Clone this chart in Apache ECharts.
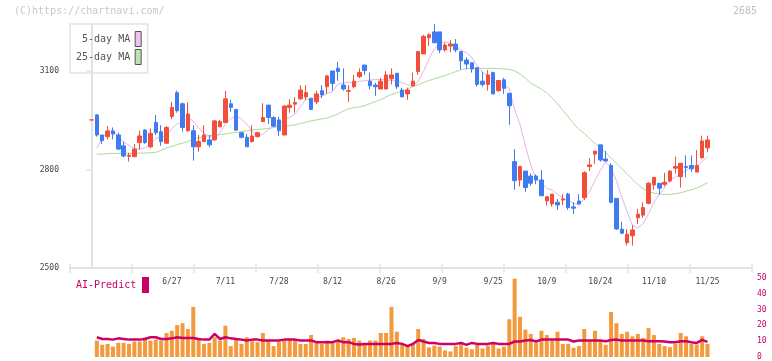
<!DOCTYPE html>
<html><head><meta charset="utf-8">
<script src="https://cdn.jsdelivr.net/npm/echarts@6/dist/echarts.min.js"></script>
<style>html,body{margin:0;padding:0;background:#fff}#c{width:772px;height:361px}</style>
</head><body><div id="c"></div>
<script>
// ---- data (index = trading day, 0 = 6/6 ... 115 = 11/25) ----
const opens = [2951,2966,2905,2900,2917,2905,2872,2840,2839,2882,2920,2869,2943,2915,2880,2961,3034,3000,2918,2918,
2869,2885,2890,2890,2930,2943,3000,2983,2912,2898,2885,2900,2946,2996,2958,2951,2905,2989,2999,3015,
3021,3017,3006,3040,3052,3100,3108,3057,3038,3052,3083,3118,3069,3057,3045,3045,3076,3093,3042,3030,
3055,3098,3152,3201,3219,3219,3164,3176,3182,3159,3133,3125,3110,3069,3059,3095,3040,3073,3032,2824,
2768,2795,2780,2780,2768,2704,2695,2700,2707,2725,2686,2704,2714,2809,2847,2875,2832,2812,2712,2618,
2577,2598,2653,2661,2697,2753,2758,2755,2765,2804,2778,2809,2812,2792,2836,2866];
const closes = [2951,2905,2888,2917,2908,2862,2841,2843,2862,2902,2882,2910,2912,2885,2928,2989,2979,2928,2969,2869,
2885,2905,2875,2948,2946,3015,2989,2920,2898,2869,2902,2912,2958,2958,2932,2918,2993,2996,3004,3042,
3034,2983,3030,3027,3085,3062,3098,3045,3040,3069,3095,3101,3055,3052,3069,3088,3088,3052,3021,3042,
3069,3159,3205,3210,3186,3164,3179,3182,3164,3131,3121,3106,3059,3059,3088,3030,3071,3047,2994,2766,
2809,2745,2758,2768,2720,2717,2725,2692,2710,2684,2682,2695,2790,2814,2856,2829,2826,2700,2619,2606,
2603,2616,2664,2684,2758,2776,2743,2761,2795,2809,2819,2806,2802,2812,2887,2890];
const lows = [2951,2900,2878,2892,2892,2859,2837,2824,2839,2861,2878,2865,2905,2872,2878,2953,2973,2915,2915,2827,
2854,2885,2868,2888,2930,2941,2976,2917,2895,2869,2882,2898,2946,2939,2929,2902,2905,2973,2973,3012,
3012,2981,2999,3017,3030,3040,3070,3040,3006,3047,3078,3088,3044,3024,3045,3045,3059,3045,3021,3012,
3052,3088,3152,3176,3186,3154,3159,3157,3157,3105,3105,3095,3052,3052,3040,3030,3037,3030,2936,2738,
2748,2732,2751,2755,2720,2690,2687,2677,2692,2677,2664,2695,2707,2795,2817,2824,2824,2697,2616,2603,
2568,2568,2634,2653,2694,2738,2724,2748,2761,2788,2745,2776,2792,2792,2833,2852];
const highs = [2951,2969,2905,2932,2928,2912,2885,2851,2878,2918,2923,2925,2966,2935,2932,3006,3040,3004,3004,2935,
2905,2935,2905,2951,2951,3039,3012,2983,2915,2908,2935,2915,3002,2996,2962,2961,2996,3014,3020,3057,
3057,3017,3040,3057,3088,3100,3128,3108,3057,3088,3108,3118,3095,3064,3079,3100,3108,3093,3049,3049,
3095,3159,3210,3215,3243,3219,3186,3194,3197,3159,3141,3125,3110,3098,3103,3098,3071,3079,3032,2862,
2811,2795,2788,2785,2798,2717,2725,2710,2725,2729,2700,2725,2795,2834,2856,2875,2856,2819,2712,2641,
2618,2631,2680,2700,2761,2776,2758,2790,2798,2839,2819,2843,2843,2859,2903,2903];
const ma5 = [null,2864,2895,2918,2920,2900,2883,2874,2863,2862,2866,2879,2894,2898,2903,2925,2939,2942,2959,2947,
2926,2911,2901,2896,2912,2938,2955,2964,2954,2938,2916,2900,2908,2920,2932,2936,2952,2959,2969,2991,
3014,3012,3019,3023,3032,3037,3060,3063,3066,3063,3069,3070,3072,3074,3074,3073,3070,3070,3064,3058,
3054,3069,3099,3137,3166,3185,3189,3184,3175,3164,3155,3141,3116,3095,3087,3068,3061,3059,3046,2982,
2937,2872,2814,2769,2760,2742,2738,2724,2713,2705,2698,2692,2712,2733,2767,2797,2823,2805,2766,2716,
2671,2629,2622,2635,2665,2700,2725,2744,2767,2777,2785,2798,2806,2810,2825,2839];
const ma25 = [null,2846,2847,2848,2849,2849,2849,2849,2849,2850,2850,2851,2852,2858,2866,2870,2876,2880,2885,2893,
2897,2900,2903,2905,2906,2908,2911,2913,2915,2918,2920,2922,2923,2925,2928,2930,2932,2934,2936,2940,
2944,2948,2951,2954,2957,2962,2969,2978,2985,2988,2991,2994,3001,3007,3013,3021,3028,3034,3038,3045,
3052,3058,3065,3071,3076,3081,3086,3092,3098,3104,3107,3108,3108,3108,3108,3108,3107,3106,3105,3100,
3091,3078,3063,3054,3044,3033,3018,3000,2980,2960,2940,2922,2910,2894,2879,2865,2851,2835,2819,2803,
2786,2770,2754,2741,2732,2728,2725,2724,2724,2726,2729,2734,2738,2743,2751,2760];
const volume = [null,10.4,7.7,8.3,6.6,8.9,8.9,8.3,9.8,9.8,12.5,10.4,11,10.4,15.2,16.6,20.2,21.4,17.7,31.7,
11,8.3,8.9,12.5,10.4,19.8,6.9,11.4,8.3,12.5,10,9.4,15.2,11,6.9,9.4,10.4,11,11,8.3,
8.3,13.9,9.4,8.3,10.4,9.4,9.8,12.5,11.4,12,10.4,7.7,10.4,10.4,15.2,15.2,31.7,16,7.7,6.6,
8.3,17.7,11.4,6.1,7.2,6.6,4.1,3.5,6.9,9.4,6.0,4.9,7.7,5.4,7.2,8.3,5.4,6.6,23.9,49.6,
25.4,17.3,14.6,8.9,16.6,13.9,10.4,16,8.3,8.3,5.8,6.9,17.7,10.4,16.6,10.4,7.7,28.5,21.4,14.6,
16,13.1,14.6,12,18.3,13.9,8.3,6.9,6.2,8.3,15.2,13.1,8.3,7.9,13.1,8.3];
const aiPredict = [null,12.5,11.4,11.4,11,11.8,11.4,11,11,11,11.4,12.5,12.5,11.4,11.4,11.8,12.5,12,12,12,
11.4,11,11,14.6,11.4,12.5,11.8,11.4,11,10.4,11,11,10.4,10.4,10.4,10.4,11,11,11,10.4,
10.4,10.4,9.4,9.4,9.4,9.4,10.4,9.4,9.4,8.3,7.9,8.3,8.3,8.3,8.3,8.3,8.3,8.9,8.3,6.9,
8.3,10.8,9.8,8.9,8.9,8.3,8.3,8.3,8.3,8.9,7.7,8.9,8.3,8.3,8.3,8.9,8.3,8.3,8.3,9.8,
9.8,10.4,10.8,9.8,11,11,11,11,11,11,9.8,10.4,10.4,10.4,10.4,10.4,10,10.8,11,10.4,
10.4,10.4,10.4,10.4,10,10,10,9.8,9.4,9.4,10,10,9.4,8.9,10.8,9.6];
const dateLabels = ['6/27','7/11','7/28','8/12','8/26','9/9','9/25','10/9','10/24','11/10','11/25'];
const dateLabelIndex = [15,25,35,45,55,65,75,85,95,105,115];
const priceTicks = [2500,2800,3100];

// ---- chart ----
const MONO = '"DejaVu Sans Mono", "Liberation Mono", monospace';
const RED = '#f24e3c', BLUE = '#407cf0';
const X_MIN = -4.014, X_MAX = 123.31;
const labelMap = {};
dateLabelIndex.forEach((k, j) => { labelMap[k] = dateLabels[j]; });

const candleData = opens.map((o, i) => [i, o, closes[i], lows[i], highs[i]]);
const toPts = arr => arr.map((v, i) => [i, v]).filter(p => p[1] != null);

const chart = echarts.init(document.getElementById('c'), null, {renderer: 'canvas'});
chart.setOption({
  animation: false,
  backgroundColor: '#fff',
  grid: [
    {left: 70, right: 20, top: 24, bottom: 93},
    {left: 70, right: 20, top: 278, bottom: 3}
  ],
  xAxis: [
    {type: 'value', gridIndex: 0, position: 'bottom', min: X_MIN, max: X_MAX,
     axisLine: {show: false}, axisTick: {show: false}, splitLine: {show: false},
     axisLabel: {customValues: dateLabelIndex, formatter: v => labelMap[Math.round(v)] || '',
       fontFamily: MONO, fontSize: 8, color: '#444', margin: 10}},
    {type: 'value', gridIndex: 0, position: 'bottom', min: 0, max: 11, interval: 1,
     axisLine: {show: true, lineStyle: {color: '#e2e2e2', width: 2}},
     axisTick: {show: true, length: 5, lineStyle: {color: '#e2e2e2', width: 1.5}},
     axisLabel: {show: false}, splitLine: {show: false}},
    {type: 'value', gridIndex: 0, position: 'bottom', min: 0, max: 11, interval: 1,
     axisLine: {show: false},
     axisTick: {show: true, inside: true, length: 4, lineStyle: {color: '#e2e2e2', width: 1.5}},
     axisLabel: {show: false}, splitLine: {show: false}},
    {type: 'value', gridIndex: 1, min: X_MIN, max: X_MAX, show: false}
  ],
  yAxis: [
    {type: 'value', gridIndex: 0, position: 'left', min: 2500, max: 3243,
     axisLine: {show: true, lineStyle: {color: '#e2e2e2', width: 2}},
     axisTick: {show: true, customValues: priceTicks, length: 5, lineStyle: {color: '#e2e2e2', width: 1.5}},
     axisLabel: {customValues: priceTicks, formatter: v => String(v), fontFamily: MONO, fontSize: 8, color: '#444', margin: 11},
     splitLine: {show: false}},
    {type: 'value', gridIndex: 1, position: 'right', min: 0, max: 50, interval: 10,
     axisLine: {show: false}, axisTick: {show: false}, splitLine: {show: false},
     axisLabel: {fontFamily: MONO, fontSize: 8, color: '#cc0066', margin: 5}}
  ],
  legend: {
    left: 70, top: 24, orient: 'vertical', align: 'right',
    itemWidth: 6, itemHeight: 15, itemGap: 2,
    padding: [7, 6, 8, 6],
    borderColor: '#e2e2e2', borderWidth: 1.5,
    selectedMode: false,
    textStyle: {fontFamily: MONO, fontSize: 10, color: '#555'},
    data: [
      {name: '5-day MA', icon: 'rect', itemStyle: {color: '#f0c0f0', borderColor: '#555', borderWidth: 1}, lineStyle: {width: 0}},
      {name: '25-day MA', icon: 'rect', itemStyle: {color: '#c0e0b0', borderColor: '#555', borderWidth: 1}, lineStyle: {width: 0}}
    ]
  },
  graphic: [
    {type: 'text', left: 14, top: 6, style: {text: '(C)https://chartnavi.com/', font: '10px ' + MONO, fill: '#c8c8c8'}},
    {type: 'text', right: 15, top: 6, style: {text: '2685', font: '10px ' + MONO, fill: '#c0c0c0'}},
    {type: 'text', left: 76, top: 280, style: {text: 'AI-Predict', font: '10px ' + MONO, fill: '#cc0066'}},
    {type: 'rect', left: 142, top: 277, shape: {width: 7, height: 16}, style: {fill: '#cc0066'}}
  ],
  series: [
    {name: '25-day MA', type: 'line', xAxisIndex: 0, yAxisIndex: 0, data: toPts(ma25),
     showSymbol: false, lineStyle: {color: '#acd99c', width: 1}, itemStyle: {color: '#acd99c'}, z: 2},
    {name: '5-day MA', type: 'line', xAxisIndex: 0, yAxisIndex: 0, data: toPts(ma5),
     showSymbol: false, lineStyle: {color: '#e8b2ea', width: 1}, itemStyle: {color: '#e8b2ea'}, z: 2},
    {name: 'price', type: 'candlestick', xAxisIndex: 0, yAxisIndex: 0, data: candleData,
     barWidth: 4, z: 3,
     itemStyle: {color: RED, color0: BLUE, borderColor: RED, borderColor0: BLUE, borderColorDoji: RED, borderWidth: 1}},
    {name: 'volume', type: 'bar', xAxisIndex: 3, yAxisIndex: 1, data: toPts(volume),
     barWidth: 4, itemStyle: {color: '#f39a3c'}},
    {name: 'AI', type: 'line', xAxisIndex: 3, yAxisIndex: 1, data: toPts(aiPredict),
     showSymbol: false, lineStyle: {color: '#cc0066', width: 2.5}, z: 4}
  ]
});
</script>
</body></html>
